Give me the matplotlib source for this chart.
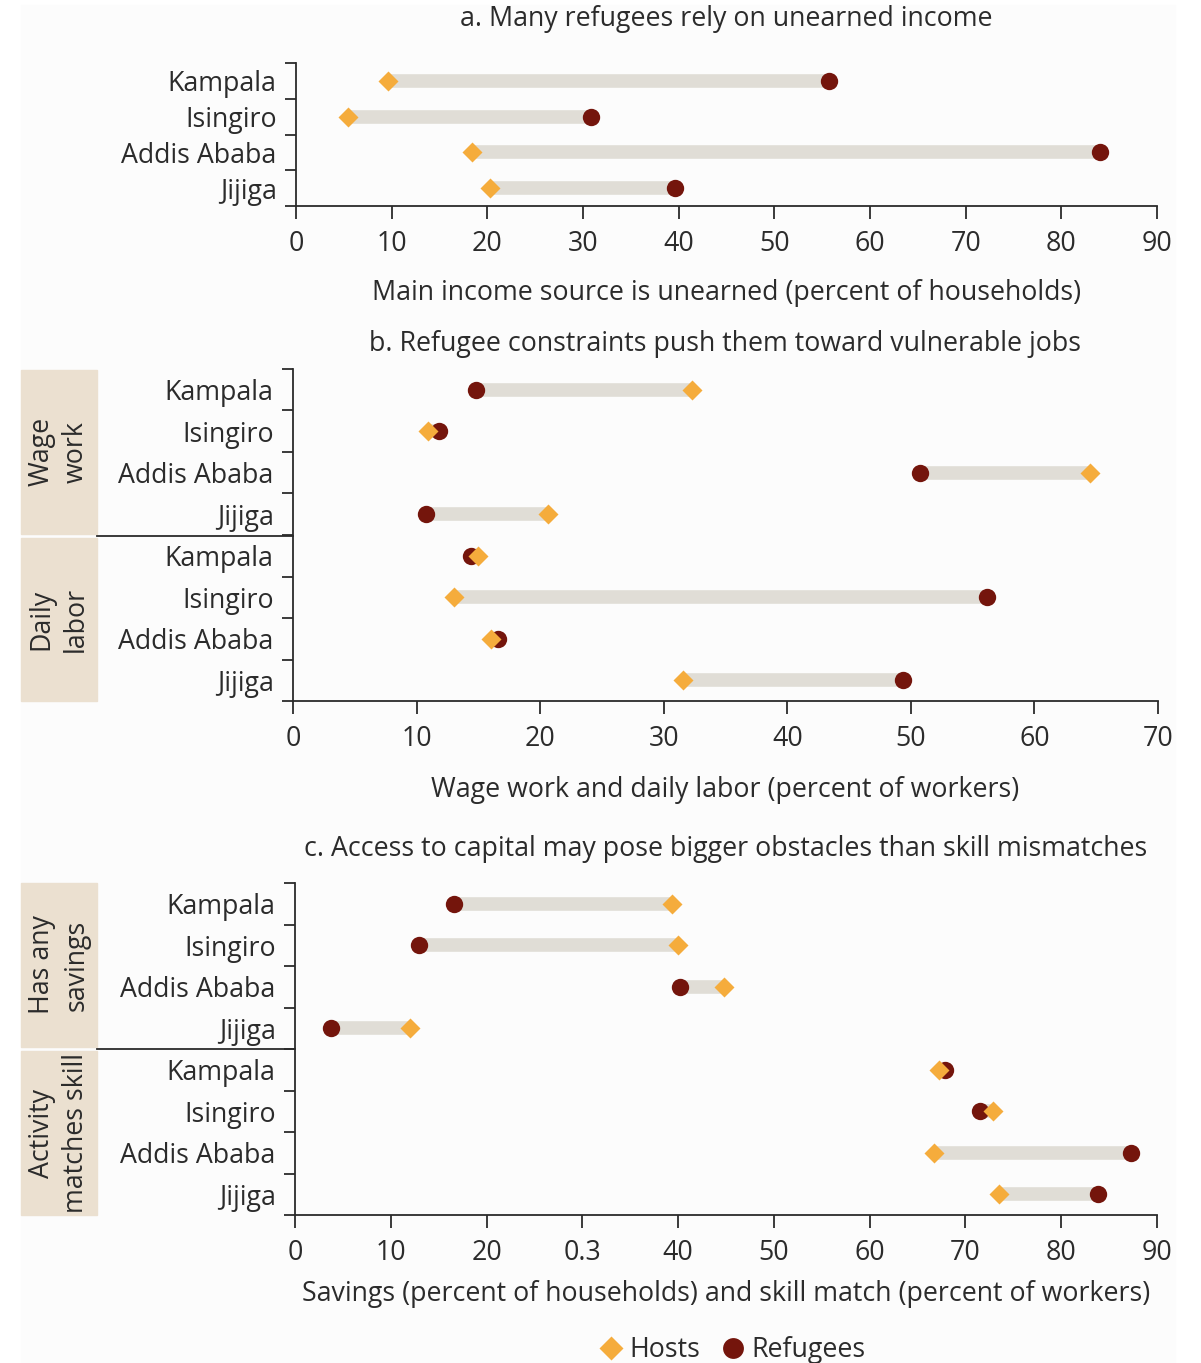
import matplotlib
matplotlib.use("Agg")
from matplotlib import pyplot as plt
from matplotlib.patches import Rectangle
from matplotlib.lines import Line2D

plt.rcParams['font.family'] = ['Open Sans', 'DejaVu Sans']

HOST = '#f5ac3c'
REF = '#74150c'
BAR = '#e0ddd6'
INK = '#2b2b2b'
BOX = '#ebe0d0'

cities = ['Kampala', 'Isingiro', 'Addis Ababa', 'Jijiga']

# panel a: unearned income (percent of households)
a_hosts = [9.6, 5.4, 18.4, 20.3]
a_refugees = [55.7, 30.8, 84.0, 39.6]

# panel b: wage work then daily labor (percent of workers)
b_hosts = [32.3, 10.9, 64.5, 20.6, 15.0, 13.0, 16.0, 31.6]
b_refugees = [14.8, 11.8, 50.7, 10.8, 14.4, 56.2, 16.6, 49.4]
b_groups = ['Wage\nwork', 'Daily\nlabor']

# panel c: savings then skill match
c_hosts = [39.4, 40.0, 44.8, 12.0, 67.2, 72.9, 66.7, 73.5]
c_refugees = [16.6, 12.9, 40.2, 3.8, 67.9, 71.5, 87.3, 83.8]
c_groups = ['Has any\nsavings', 'Activity\nmatches skill']

W, H = 1201, 1363
fig = plt.figure(figsize=(W / 100, H / 100), dpi=100)
fig.patch.set_facecolor('white')
fig.add_artist(Rectangle((21 / W, 0), (1175 - 21) / W, 1 - 5 / H,
                         transform=fig.transFigure, color='#fcfcfc', zorder=-10))

FS = 19.3


def fx(px):
    return px / W


def fy(py):
    return 1 - py / H


def panel(box, hosts, refs, labels, xmax, title, title_y, xlabel, xlabel_y, ticklabels=None):
    l, t, r, b = box
    ax = fig.add_axes([fx(l), fy(b), fx(r) - fx(l), fy(t) - fy(b)])
    ax.set_facecolor('none')
    n = len(hosts)
    ys = list(range(n))
    for y, h, f in zip(ys, hosts, refs):
        ax.plot([h, f], [y, y], color=BAR, lw=9.8, solid_capstyle='butt', zorder=1)
    ax.plot(refs, ys, 'o', color=REF, ms=12.5, mec='none', zorder=2)
    ax.plot(hosts, ys, 'D', color=HOST, ms=10.5, mec='none', zorder=3)
    ax.set_ylim(n - 0.5, -0.5)
    ax.set_xlim(0, xmax)
    ax.set_yticks([k - 0.5 for k in range(n + 1)])
    ax.set_yticklabels([])
    ax.set_yticks(ys, minor=True)
    ax.set_yticklabels(labels, minor=True)
    ax.tick_params(axis='y', which='major', length=8, width=1.3, color=INK)
    ax.tick_params(axis='y', which='minor', length=0, pad=14, labelsize=FS, labelcolor=INK)
    xt = list(range(0, xmax + 1, 10))
    ax.set_xticks(xt)
    ax.set_xticklabels(ticklabels if ticklabels else [str(v) for v in xt])
    ax.tick_params(axis='x', length=9, width=1.3, color=INK, labelsize=FS, labelcolor=INK, pad=8)
    for s in ['top', 'right']:
        ax.spines[s].set_visible(False)
    for s in ['left', 'bottom']:
        ax.spines[s].set_color(INK)
        ax.spines[s].set_linewidth(1.3)
    cx = fx((l + r) / 2)
    fig.text(cx, fy(title_y), title, ha='center', va='center', fontsize=FS, color=INK)
    fig.text(cx, fy(xlabel_y), xlabel, ha='center', va='center', fontsize=FS, color=INK)
    return ax


panel((296, 63, 1157, 206), a_hosts, a_refugees, cities, 90,
      'a. Many refugees rely on unearned income', 19,
      'Main income source is unearned (percent of households)', 293)

panel((293, 369, 1158, 701), b_hosts, b_refugees, cities * 2, 70,
      'b. Refugee constraints push them toward vulnerable jobs', 344,
      'Wage work and daily labor (percent of workers)', 790)

c_ticks = ['0', '10', '20', '0.3', '40', '50', '60', '70', '80', '90']
panel((295, 883, 1157, 1215), c_hosts, c_refugees, cities * 2, 90,
      'c. Access to capital may pose bigger obstacles than skill mismatches', 849,
      'Savings (percent of households) and skill match (percent of workers)', 1294,
      ticklabels=c_ticks)


def group_boxes(top, bottom, axis_x, names):
    mid = (top + bottom) / 2
    spans = [(top, mid - 2), (mid + 2, bottom)]
    for (y0, y1), name in zip(spans, names):
        fig.add_artist(Rectangle((fx(21), fy(y1)), fx(97) - fx(21), fy(y0) - fy(y1),
                                 transform=fig.transFigure, color=BOX, zorder=0))
        fig.text(fx(59), fy((y0 + y1) / 2), name, rotation=90, ha='center', va='center',
                 fontsize=FS, color=INK, linespacing=1.3)
    fig.add_artist(Line2D([fx(97), fx(axis_x)], [fy(mid), fy(mid)],
                          transform=fig.transFigure, color=INK, lw=1.3))


group_boxes(370, 701, 293, b_groups)
group_boxes(883, 1215, 295, c_groups)

handles = [Line2D([], [], marker='D', color=HOST, ls='none', ms=12, mec='none'),
           Line2D([], [], marker='o', color=REF, ls='none', ms=15, mec='none')]
fig.legend(handles, ['Hosts', 'Refugees'], loc='center', ncol=2, frameon=False,
           bbox_to_anchor=(fx(730), fy(1350)), fontsize=FS, handletextpad=0.1,
           columnspacing=0.6, handlelength=1.2, labelcolor=INK)

fig.savefig('out.png', dpi=100, facecolor=fig.get_facecolor())
